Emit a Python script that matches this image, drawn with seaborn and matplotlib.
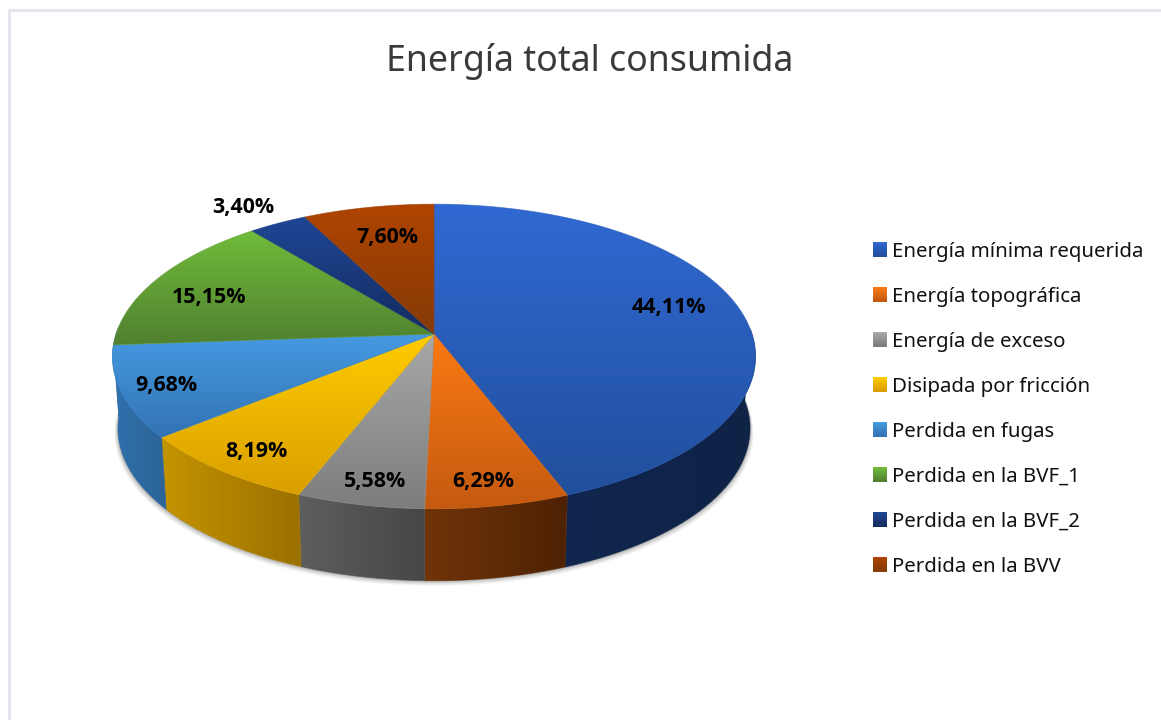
import numpy as np
import matplotlib
matplotlib.use("Agg")
import matplotlib.pyplot as plt
import seaborn as sns
from matplotlib.colors import LinearSegmentedColormap
from matplotlib.legend_handler import HandlerBase
from matplotlib.patches import PathPatch, Patch, Rectangle
from matplotlib.path import Path

# Values
categories = [
    "Energía mínima requerida", "Energía topográfica", "Energía de exceso",
    "Disipada por fricción", "Perdida en fugas", "Perdida en la BVF_1",
    "Perdida en la BVF_2", "Perdida en la BVV",
]
percent = [44.11, 6.29, 5.58, 8.19, 9.68, 15.15, 3.40, 7.60]
percent_labels = ["44,11%", "6,29%", "5,58%", "8,19%", "9,68%", "15,15%", "3,40%", "7,60%"]

# Colours: top of slice, bottom of slice, wall left, wall right
top_light = ["#3069d3", "#fb7a13", "#a8a8a8", "#ffcc00", "#469ae2", "#70bc3a", "#1f4696", "#b04400"]
top_dark = ["#214f9c", "#c45a10", "#7d7d7d", "#d99e00", "#3273b4", "#508030", "#142c60", "#843a08"]
wall_left = ["#10264e", "#703408", "#5e5e5e", "#c49400", "#2f70ac", "#2f70ac", "#10244c", "#6a3006"]
wall_right = ["#0e2346", "#4e2204", "#464646", "#9a7000", "#2c6498", "#2f70ac", "#10244c", "#6a3006"]

label_xy = [(669, 307), (483, 482), (375, 482), (256, 452), (166, 386), (209, 298), (243, 208), (387, 238)]

sns.set_theme(style="white")
plt.rcParams["font.family"] = ["Noto Sans", "DejaVu Sans"]

# Pie geometry, in pixels of the picture
CX, CY = 434, 334
RX, RY = 318, 149
PERSP = 0.1475
DEPTH = 72
SHRINK = 0.983


def project(theta, drop=0.0, shrink=1.0):
    # theta clockwise from twelve o'clock, the back of the pie is further away
    u = np.sin(theta)
    v = np.cos(theta)
    w = 1 + PERSP * v
    return CX + shrink * RX * u / w, CY + drop - RY * v / w


def gradient(ax, path, c0, c1, z, horizontal=False):
    cmap = LinearSegmentedColormap.from_list("g", [c0, c1])
    xmin, ymin = path.vertices.min(axis=0)
    xmax, ymax = path.vertices.max(axis=0)
    ramp = np.linspace(0, 1, 256)
    ramp = ramp.reshape(1, -1) if horizontal else ramp.reshape(-1, 1)
    im = ax.imshow(ramp, cmap=cmap, vmin=0, vmax=1, aspect="auto", zorder=z,
                   extent=(xmin, xmax, ymax, ymin), interpolation="bilinear")
    im.set_clip_path(PathPatch(path, transform=ax.transData))
    # thin edge in the same colours to soften the clipped border
    mid = cmap(0.5)
    ax.add_patch(PathPatch(path, fc="none", ec=mid, lw=0.6, alpha=0.6, zorder=z))


class GradientHandle(HandlerBase):
    def create_artists(self, legend, orig, xd, yd, width, height, fontsize, trans):
        cmap = LinearSegmentedColormap.from_list("h", [orig.get_facecolor(), orig.get_edgecolor()])
        n = 14
        return [Rectangle((-xd, -yd + height * i / n), width, height / n + 0.1,
                          fc=cmap(1 - i / (n - 1)), ec="none", transform=trans) for i in range(n)]


fig = plt.figure(figsize=(11.61, 7.2), dpi=100)
ax = fig.add_axes([0, 0, 1, 1])
ax.set_axis_off()

# slice limits from the percentages
edges = np.radians(np.concatenate([[0], np.cumsum(percent)]) * 3.6)

# soft shadow under the body
t_all = np.linspace(0, 2 * np.pi, 361)
for grow, alpha in zip([5, 4, 3, 2, 1], [0.05, 0.07, 0.09, 0.12, 0.16]):
    sx, sy = project(t_all, drop=DEPTH + grow, shrink=SHRINK)
    ax.fill(sx + grow * 0.7 * np.sign(sx - CX), sy, fc="#555555", ec="none", alpha=alpha, zorder=1)

# walls, only the part facing the viewer
for i in range(len(percent)):
    t = np.linspace(edges[i], edges[i + 1], 120)
    t = t[np.cos(t) < 0.05]
    if len(t) == 0:
        continue
    x0, y0 = project(t)
    x1, y1 = project(t, drop=DEPTH, shrink=SHRINK)
    verts = np.column_stack([np.r_[x0, x1[::-1], x0[0]], np.r_[y0, y1[::-1], y0[0]]])
    gradient(ax, Path(verts), wall_left[i], wall_right[i], 2, horizontal=True)

# top faces
for i in range(len(percent)):
    t = np.linspace(edges[i], edges[i + 1], 200)
    x, y = project(t)
    verts = np.column_stack([np.r_[CX, x, CX], np.r_[CY, y, CY]])
    gradient(ax, Path(verts), top_light[i], top_dark[i], 3)

for (lx, ly), txt in zip(label_xy, percent_labels):
    ax.text(lx, ly, txt, ha="center", va="center", fontsize=15.4, fontweight="bold",
            color="black", family=["Open Sans", "DejaVu Sans"], zorder=5)

ax.text(590, 61, "Energía total consumida", ha="center", va="center", fontsize=25.7,
        color="#3a3a3a", zorder=5)

palette = sns.color_palette(top_light)
handles = [Patch(facecolor=palette[i], edgecolor=top_dark[i], label=categories[i])
           for i in range(len(categories))]
ax.legend(handles=handles, handler_map={Patch: GradientHandle()}, loc="upper left",
          bbox_to_anchor=(873 / 1161, 1 - 241.5 / 720), frameon=False, fontsize=14.7,
          handlelength=0.69, handleheight=0.7, handletextpad=0.22, labelspacing=1.225,
          borderpad=0, borderaxespad=0, labelcolor="#111111")

# frame of the original picture
ax.plot([9, 9], [720, 10], color="#e2e5ec", lw=2)
ax.plot([9, 1161], [10, 10], color="#e2e5ec", lw=2)

ax.set_xlim(0, 1161)
ax.set_ylim(720, 0)
fig.savefig("out.png", dpi=100, facecolor="white")
